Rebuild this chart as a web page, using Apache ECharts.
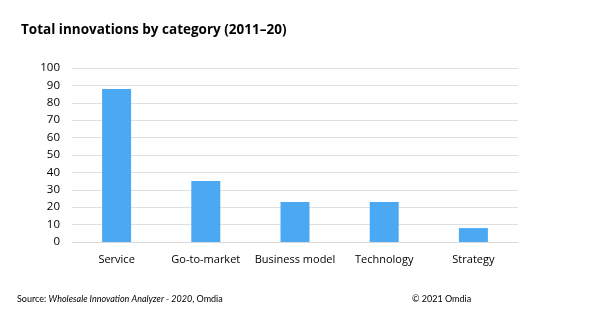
<!DOCTYPE html>
<html><head><meta charset="utf-8">
<script src="https://cdn.jsdelivr.net/npm/echarts@6/dist/echarts.min.js"></script>
<style>html,body{margin:0;padding:0;background:#fff}#c{width:590px;height:321px}</style>
</head><body><div id="c"></div>
<script>
var categories = ['Service', 'Go-to-market', 'Business model', 'Technology', 'Strategy'];
var values = [88, 35, 23, 23, 8];
var yTicks = [0, 10, 20, 30, 40, 50, 60, 70, 80, 90, 100];

var chart = echarts.init(document.getElementById('c'));
var font = 'Open Sans, Noto Sans, sans-serif';
var foot = 'Lato, Open Sans, sans-serif';
chart.setOption({
  animation: false,
  backgroundColor: '#fff',
  title: [{
    text: 'Total innovations by category (2011\u201320)',
    left: 16, top: 18,
    textStyle: {fontFamily: font, fontSize: 13.5, fontWeight: 'bold', color: '#000'}
  }, {
    text: '{n|Source: }{i|Wholesale Innovation Analyzer - 2020}{n|, Omdia}',
    left: 12, top: 290,
    textStyle: {fontWeight: 'normal', rich: {
      n: {fontFamily: foot, fontSize: 9, fontWeight: 'normal', color: '#000'},
      i: {fontFamily: foot, fontSize: 9, fontWeight: 'normal', fontStyle: 'italic', color: '#000'}
    }}
  }, {
    text: '\u00a9 2021 Omdia',
    left: 407, top: 290,
    textStyle: {fontFamily: foot, fontSize: 9, fontWeight: 'normal', color: '#000'}
  }],
  grid: {left: 72, right: 72, top: 68, bottom: 79},
  xAxis: {
    type: 'category', data: categories,
    axisLine: {show: true, lineStyle: {color: '#d9d9d9'}},
    axisTick: {show: false},
    axisLabel: {interval: 0, fontFamily: font, fontSize: 11, color: '#000', margin: 12}
  },
  yAxis: {
    type: 'value', min: yTicks[0], max: yTicks[yTicks.length - 1], interval: 10,
    axisLine: {show: false}, axisTick: {show: false},
    splitLine: {lineStyle: {color: '#e0e0e0'}},
    axisLabel: {fontFamily: font, fontSize: 11.5, color: '#000', margin: 12}
  },
  series: [{
    type: 'bar', data: values, barWidth: 29,
    itemStyle: {color: '#4BA9F3'}
  }]
});
</script></body></html>
